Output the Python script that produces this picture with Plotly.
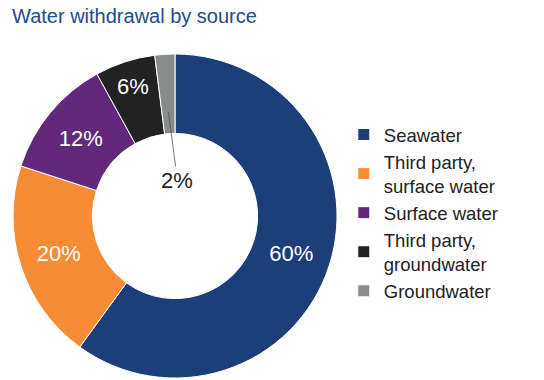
import numpy as np
import plotly.graph_objects as go

labels = ["Seawater", "Third party,<br>surface water", "Surface water",
          "Third party,<br>groundwater", "Groundwater"]
values = [60, 20, 12, 6, 2]
colors = ["#1c3f7a", "#f68c33", "#62287a", "#222222", "#8a8b8b"]
text_pos = ["inside", "inside", "inside", "inside", "none"]

W, H = 544, 380
cx, cy, R = 175, 216, 162

fig = go.Figure(go.Pie(
    labels=labels, values=values, sort=False, direction="clockwise", rotation=0,
    hole=0.51,
    marker=dict(colors=colors, line=dict(color="white", width=1)),
    texttemplate="%{value}%", textposition=text_pos,
    insidetextorientation="horizontal",
    textfont=dict(color="white", size=22, family="Liberation Sans"),
    domain=dict(x=[(cx - R) / W, (cx + R) / W], y=[1 - (cy + R) / H, 1 - (cy - R) / H]),
))

# Callout for the smallest slice (label placed in the hole)
cum = np.cumsum(values)
mid = (cum[-1] - values[-1] / 2) / cum[-1] * 2 * np.pi
r_tip = R * 0.64
tip_x = cx + r_tip * np.sin(mid)
tip_y = cy - r_tip * np.cos(mid)
fig.add_annotation(
    x=tip_x / W, y=1 - tip_y / H, xref="paper", yref="paper",
    text="2%", showarrow=True, arrowhead=0, arrowwidth=0.8, arrowcolor="#555555",
    ax=9, ay=68, font=dict(size=22, color="#222222", family="Liberation Sans"),
)

fig.update_layout(
    width=W, height=H,
    margin=dict(l=0, r=0, t=0, b=0),
    paper_bgcolor="white", plot_bgcolor="white",
    title=dict(text="Water withdrawal by source", x=12 / W, xanchor="left",
               y=1 - 16 / H, yanchor="middle",
               font=dict(size=20, color="#244b8a", family="Liberation Sans")),
    legend=dict(x=0.632, xanchor="left", y=1 - 213 / H, yanchor="middle",
                font=dict(size=18.5, color="#222222", family="Liberation Sans"),
                traceorder="normal"),
    showlegend=True,
)

fig.write_html("out.html", config={"displayModeBar": False},
               post_script="document.body.style.margin='0px';")
